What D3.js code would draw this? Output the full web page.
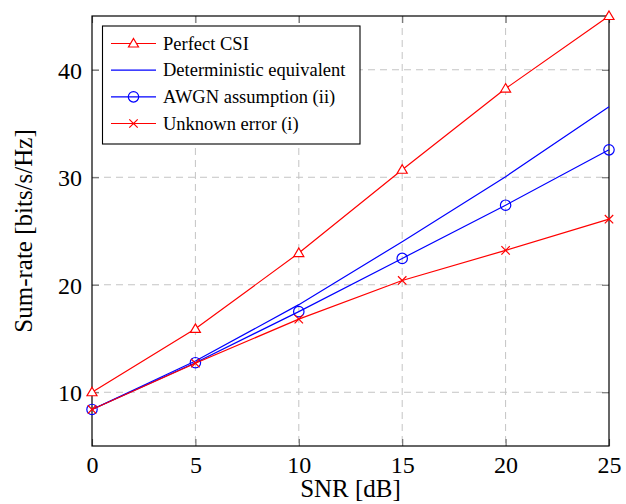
<!DOCTYPE html>
<html>
<head>
<meta charset="utf-8">
<script src="https://cdn.jsdelivr.net/npm/d3@7"></script>
<style>
  html, body { margin: 0; padding: 0; background: #fff; }
  svg { display: block; }
  text { font-family: "Liberation Serif", "DejaVu Serif", serif; fill: #000; }
</style>
</head>
<body>
<svg id="chart" width="626" height="504"></svg>
<script>
// ---- data ----
const snr = [0, 5, 10, 15, 20, 25];
const perfectCSI = [10.0, 15.9, 22.95, 30.7, 38.25, 45.0];
const detEquivalent = [8.4, 12.9, 18.15, 24.0, 30.05, 36.55];
const awgnAssumption = [8.4, 12.75, 17.5, 22.45, 27.4, 32.55];
const unknownError = [8.4, 12.7, 16.8, 20.4, 23.2, 26.1];
const xTicks = [0, 5, 10, 15, 20, 25];
const yTicks = [10, 20, 30, 40];
const seriesNames = ["Perfect CSI", "Deterministic equivalent", "AWGN assumption (ii)", "Unknown error (i)"];

const series = [
  { name: seriesNames[0], values: perfectCSI, color: "#ff0000", marker: "triangle" },
  { name: seriesNames[1], values: detEquivalent, color: "#0000ff", marker: null },
  { name: seriesNames[2], values: awgnAssumption, color: "#0000ff", marker: "circle" },
  { name: seriesNames[3], values: unknownError, color: "#ff0000", marker: "cross" }
];

const L = 92, R = 609, T = 16, B = 446;
const svg = d3.select("#chart");
const x = d3.scaleLinear().domain([0, 25]).range([L, R]);
const y = d3.scaleLinear().domain([5, 45]).range([B, T]);

// grid
const grid = svg.append("g");
grid.selectAll("line.gx").data(xTicks.filter(d => d > 0 && d < 25)).enter().append("line")
  .attr("x1", d => x(d)).attr("x2", d => x(d)).attr("y1", T).attr("y2", B)
  .attr("stroke", "#c4c4c4").attr("stroke-width", 1).attr("stroke-dasharray", "7,5");
grid.selectAll("line.gy").data(yTicks).enter().append("line")
  .attr("y1", d => y(d)).attr("y2", d => y(d)).attr("x1", L).attr("x2", R)
  .attr("stroke", "#c4c4c4").attr("stroke-width", 1).attr("stroke-dasharray", "7,5");

// axes ticks via d3 axes (inside ticks, no domain)
const tickLen = 7;
const axB = svg.append("g").attr("transform", `translate(0,${B})`)
  .call(d3.axisBottom(x).tickValues(xTicks).tickSize(-tickLen).tickPadding(10).tickFormat(d3.format("d")));
const axT = svg.append("g").attr("transform", `translate(0,${T})`)
  .call(d3.axisTop(x).tickValues(xTicks).tickSize(-tickLen).tickFormat(""));
const axL = svg.append("g").attr("transform", `translate(${L},0)`)
  .call(d3.axisLeft(y).tickValues(yTicks).tickSize(-tickLen).tickPadding(10).tickFormat(d3.format("d")));
const axRt = svg.append("g").attr("transform", `translate(${R},0)`)
  .call(d3.axisRight(y).tickValues(yTicks).tickSize(-tickLen).tickFormat(""));
[axB, axT, axL, axRt].forEach(a => {
  a.select(".domain").remove();
  a.selectAll(".tick line").attr("stroke", "#6a6a6a").attr("stroke-width", 1.1);
  a.selectAll(".tick text").style("font-family", '"Liberation Serif", serif').style("font-size", "24px").attr("fill", "#000");
});
axB.selectAll(".tick text").attr("dy", "0.71em");
axL.selectAll(".tick text").attr("dy", "0.35em");

// frame
svg.append("rect").attr("x", L).attr("y", T).attr("width", R - L).attr("height", B - T)
  .attr("fill", "none").attr("stroke", "#000").attr("stroke-width", 1.2);

// markers
function drawMarker(g, type, cx, cy, color) {
  if (type === "triangle") {
    const s = 5;
    g.append("path")
      .attr("d", `M${cx},${cy - s} L${cx + s * 1.0},${cy + s * 0.7} L${cx - s * 1.0},${cy + s * 0.7} Z`)
      .attr("fill", "#fff").attr("stroke", color).attr("stroke-width", 1.2);
  } else if (type === "circle") {
    g.append("circle").attr("cx", cx).attr("cy", cy).attr("r", 5.2)
      .attr("fill", "none").attr("stroke", color).attr("stroke-width", 1.2);
  } else if (type === "cross") {
    const s = 4.2;
    g.append("path")
      .attr("d", `M${cx - s},${cy - s} L${cx + s},${cy + s} M${cx - s},${cy + s} L${cx + s},${cy - s}`)
      .attr("fill", "none").attr("stroke", color).attr("stroke-width", 1.2);
  }
}

const line = d3.line().x((d, i) => x(snr[i])).y(d => y(d));
series.forEach(s => {
  const g = svg.append("g");
  g.append("path").datum(s.values).attr("d", line)
    .attr("fill", "none").attr("stroke", s.color).attr("stroke-width", 1.2);
  if (s.marker) {
    s.values.forEach((v, i) => drawMarker(g, s.marker, x(snr[i]), y(v), s.color));
  }
});

// legend
const lg = svg.append("g");
lg.append("rect").attr("x", 102.5).attr("y", 26).attr("width", 257.5).attr("height", 118)
  .attr("fill", "#fff").attr("stroke", "#000").attr("stroke-width", 1.1);
const rowY = d3.scaleLinear().domain([0, 3]).range([43.5, 123.5]);
series.forEach((s, i) => {
  const cy = rowY(i);
  lg.append("line").attr("x1", 111).attr("x2", 156).attr("y1", cy).attr("y2", cy)
    .attr("stroke", s.color).attr("stroke-width", 1.2);
  if (s.marker) drawMarker(lg, s.marker, 133.5, cy, s.color);
  lg.append("text").attr("x", 163).attr("y", cy).attr("dy", "0.33em")
    .style("font-size", "18.5px").text(s.name);
});

// axis labels
svg.append("text").attr("x", (L + R) / 2).attr("y", 497).attr("text-anchor", "middle")
  .style("font-size", "25px").text("SNR [dB]");
svg.append("text").attr("transform", `translate(32,${(T + B) / 2}) rotate(-90)`)
  .attr("text-anchor", "middle").style("font-size", "25px").text("Sum-rate [bits/s/Hz]");
</script>
</body>
</html>
